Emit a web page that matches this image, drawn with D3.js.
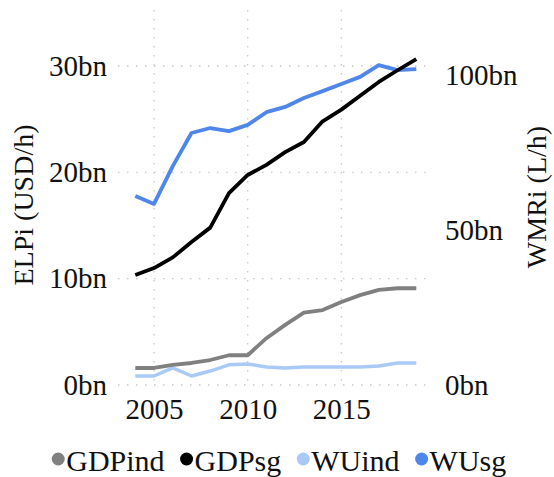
<!DOCTYPE html>
<html><head><meta charset="utf-8">
<script src="https://cdn.jsdelivr.net/npm/d3@7/dist/d3.min.js"></script>
<style>
html,body{margin:0;padding:0;background:#fff;}
svg text{font-family:"Liberation Serif","Times New Roman",Tinos,"DejaVu Serif",serif !important;fill:#111;}
</style></head>
<body>
<svg id="chart" width="554" height="477"></svg>
<script>
const years = [2004,2005,2006,2007,2008,2009,2010,2011,2012,2013,2014,2015,2016,2017,2018,2019];
const GDPind = [1.6,1.6,1.9,2.07,2.35,2.8,2.8,4.4,5.65,6.8,7.05,7.8,8.45,8.95,9.1,9.1];
const GDPsg  = [10.35,11.0,12.0,13.45,14.8,18.05,19.75,20.7,21.9,22.85,24.8,25.9,27.2,28.5,29.6,30.65];
const WUind  = [2.9,2.9,5.5,2.9,4.5,6.5,6.8,5.8,5.5,5.8,5.8,5.8,5.8,6.1,7.1,7.1];
const WUsg   = [61,58.4,70.6,81.3,82.9,81.9,83.9,88,89.7,92.6,94.8,97.1,99.4,103.2,101.6,101.9];
const leftTicks = [0,10,20,30];
const rightTicks = [0,50,100];
const xTicks = [2005,2010,2015];
const seriesNames = ["GDPind","GDPsg","WUind","WUsg"];
const colors = {GDPind:"#808080",GDPsg:"#000000",WUind:"#a9c9f6",WUsg:"#4f86ea"};
const FONT = '"Liberation Serif","Times New Roman",serif';

const svg = d3.select("#chart");
const x = d3.scaleLinear().domain([2004,2019]).range([135.3,416.3]);
const yL = d3.scaleLinear().domain([0,30]).range([385,66]);
const yR = d3.scaleLinear().domain([0,100]).range([385,75]);
const fmt = v => v + "bn";

// grid
const grid = svg.append("g");
grid.selectAll("line.h").data(leftTicks).join("line")
  .attr("x1",118).attr("x2",427).attr("y1",d=>yL(d)).attr("y2",d=>yL(d))
  .attr("stroke","#c8c8c8").attr("stroke-width",1.3).attr("stroke-dasharray","1.5,7.5");
grid.selectAll("line.v").data(xTicks).join("line")
  .attr("x1",d=>x(d)).attr("x2",d=>x(d)).attr("y1",10).attr("y2",385)
  .attr("stroke","#c8c8c8").attr("stroke-width",1.3).attr("stroke-dasharray","1.5,7.5");

// axes (labels only)
const axL = d3.axisLeft(yL).tickValues(leftTicks).tickFormat(fmt).tickSize(0).tickPadding(0);
const gL = svg.append("g").attr("transform","translate(107,0)").call(axL);
const axR = d3.axisRight(yR).tickValues(rightTicks).tickFormat(fmt).tickSize(0).tickPadding(0);
const gR = svg.append("g").attr("transform","translate(445,0)").call(axR);
const axB = d3.axisBottom(x).tickValues(xTicks).tickFormat(d3.format("d")).tickSize(0).tickPadding(0);
const gB = svg.append("g").attr("transform","translate(0,398)").call(axB);
[gL,gR,gB].forEach(g=>{
  g.attr("font-family",FONT).attr("font-size",29);
  g.select(".domain").remove();
  g.selectAll("text").style("font-family",FONT).attr("font-size",29).attr("fill","#111");
});
gB.selectAll("text").attr("dy","0.71em");

// titles
svg.append("text").attr("transform","translate(33,205) rotate(-90)")
  .attr("text-anchor","middle").attr("font-size",28).style("font-family",FONT).text("ELPi (USD/h)");
svg.append("text").attr("transform","translate(546,197) rotate(-90)")
  .attr("text-anchor","middle").attr("font-size",28).style("font-family",FONT).text("WMRi (L/h)");

// lines
const lineL = d3.line().x((d,i)=>x(years[i])).y(d=>yL(d));
const lineR = d3.line().x((d,i)=>x(years[i])).y(d=>yR(d));
const plot = svg.append("g").attr("fill","none").attr("stroke-linejoin","round");
plot.append("path").datum(WUind).attr("d",lineR).attr("stroke",colors.WUind).attr("stroke-width",3.5);
plot.append("path").datum(GDPind).attr("d",lineL).attr("stroke",colors.GDPind).attr("stroke-width",3.8);
plot.append("path").datum(WUsg).attr("d",lineR).attr("stroke",colors.WUsg).attr("stroke-width",3.8);
plot.append("path").datum(GDPsg).attr("d",lineL).attr("stroke",colors.GDPsg).attr("stroke-width",3.8);

// legend
const lg = svg.append("g");
let cx = 0;
seriesNames.forEach((n,i)=>{
  const it = lg.append("g");
  it.append("circle").attr("cx",cx).attr("cy",-1).attr("r",6.5).attr("fill",colors[n]);
  const t = it.append("text").attr("x",cx+8).attr("y",0).attr("dy","0.35em").attr("font-size",30)
    .style("font-family",FONT).text(n);
  cx = cx + 8 + t.node().getComputedTextLength() + 22;
});
const total = cx - 22 + 6.5;
lg.attr("transform",`translate(${279 - total/2 + 6.5},460)`);
</script>
</body></html>
